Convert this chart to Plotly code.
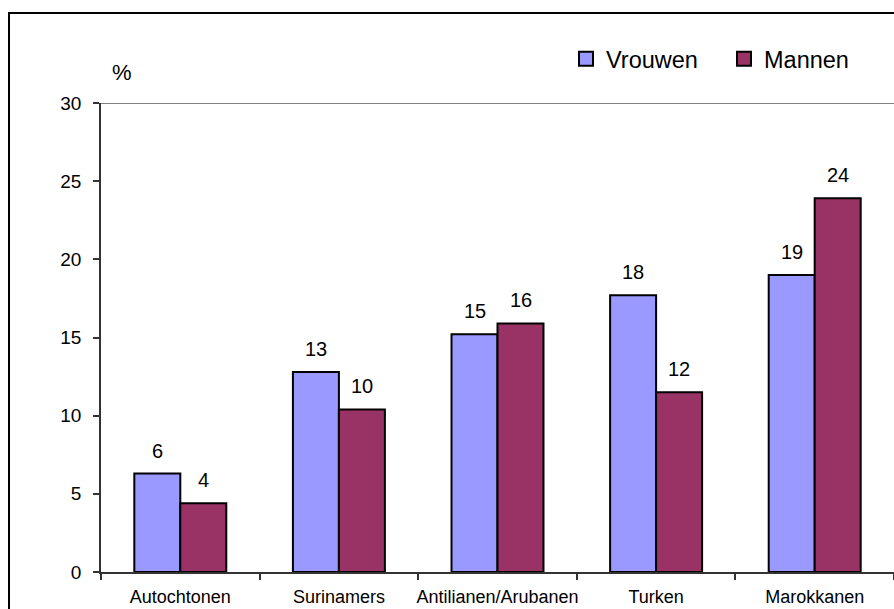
import plotly.graph_objects as go

# Percentages per group, split by sex
categories = ["Autochtonen", "Surinamers", "Antilianen/Arubanen", "Turken", "Marokkanen"]
vrouwen = [6.3, 12.8, 15.2, 17.7, 19.0]
mannen = [4.4, 10.4, 15.9, 11.5, 23.9]
y_ticks = [0, 5, 10, 15, 20, 25, 30]

W, H = 894, 609
ML, MR, MT, MB = 101, 0, 103, 37
PW, PH = W - ML - MR, H - MT - MB

BARGAP = 0.42
FONT = "Arial, Liberation Sans, sans-serif"
COL_V = "#9999FF"
COL_M = "#993366"

fig = go.Figure()
for name, vals, col in (("Vrouwen", vrouwen, COL_V), ("Mannen", mannen, COL_M)):
    fig.add_bar(name=name, x=categories, y=vals, legendgroup=name, showlegend=False,
                marker=dict(color=col, line=dict(color="#000000", width=2)))
# legend keys: larger square swatches than the default bar key
for name, col in (("Vrouwen", COL_V), ("Mannen", COL_M)):
    fig.add_scatter(name=name, x=[categories[0]], y=[None], mode="markers",
                    legendgroup=name, hoverinfo="skip",
                    marker=dict(symbol="square", size=14, color=col,
                                line=dict(color="#000000", width=2)))

# value labels above each bar (rounded to whole percentages)
half = (1 - BARGAP) / 4
annotations = []
for series, shift in ((vrouwen, -half), (mannen, half)):
    for i, v in enumerate(series):
        annotations.append(dict(
            x=i + shift, y=v, xref="x", yref="y", text=f"{round(v)}",
            showarrow=False, yanchor="bottom", yshift=10,
            font=dict(family=FONT, size=20, color="#000000")))

# unit label above the value axis
annotations.append(dict(
    x=(122 - ML) / PW, y=(H - MB - 72) / PH, xref="paper", yref="paper",
    text="%", showarrow=False, xanchor="center", yanchor="middle",
    font=dict(family=FONT, size=22, color="#000000")))

shapes = [
    # top edge of the plot area
    dict(type="line", xref="paper", yref="y", x0=0, x1=1, y0=30, y1=30,
         line=dict(color="#808080", width=2)),
    # outer chart frame
    dict(type="rect", xref="paper", yref="paper",
         x0=(9 - ML) / PW, x1=1.05,
         y0=-(MB + 10) / PH, y1=1 + (MT - 13) / PH,
         line=dict(color="#000000", width=2), fillcolor="rgba(0,0,0,0)"),
]

fig.update_layout(
    width=W, height=H,
    margin=dict(l=ML, r=MR, t=MT, b=MB, autoexpand=False),
    paper_bgcolor="#FFFFFF", plot_bgcolor="#FFFFFF",
    barmode="group", bargap=BARGAP, bargroupgap=0,
    font=dict(family=FONT, color="#000000"),
    showlegend=True,
    legend=dict(orientation="h", x=(566 - ML) / PW, y=(H - MB - 59) / PH,
                xanchor="left", yanchor="middle", bgcolor="rgba(0,0,0,0)",
                itemsizing="trace", entrywidth=113, entrywidthmode="pixels",
                font=dict(family=FONT, size=23.5, color="#000000"),
                itemclick=False, itemdoubleclick=False),
    annotations=annotations,
    shapes=shapes,
)
fig.update_xaxes(
    type="category", range=[-0.5, 4.5], tickson="boundaries",
    ticks="outside", ticklen=6, tickwidth=1.5, tickcolor="#333333",
    showline=True, linecolor="#333333", linewidth=1.5,
    showgrid=False, zeroline=False, ticklabelstandoff=8,
    tickangle=0, automargin=False,
    tickfont=dict(family=FONT, size=18, color="#000000"),
)
fig.update_yaxes(
    range=[0, 30], tickvals=y_ticks, ticktext=[str(t) for t in y_ticks],
    ticks="outside", ticklen=6, tickwidth=1.5, tickcolor="#333333",
    showline=True, linecolor="#333333", linewidth=1.5,
    showgrid=False, zeroline=False, ticklabelstandoff=8, automargin=False,
    tickfont=dict(family=FONT, size=19, color="#000000"),
)

fig.write_html("out.html", config={"displayModeBar": False})
